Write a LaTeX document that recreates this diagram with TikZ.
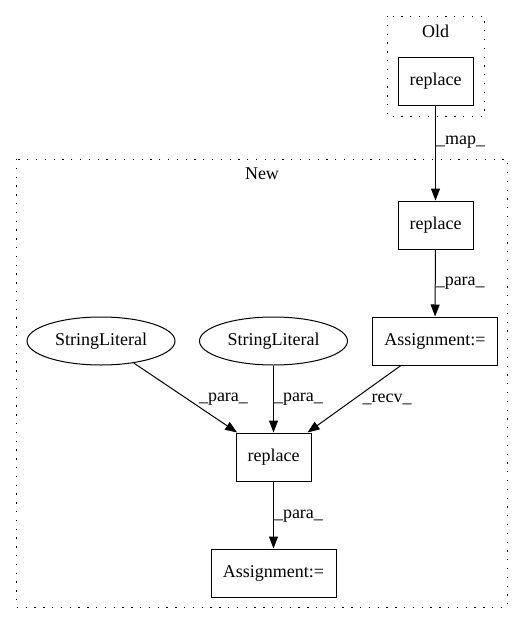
\documentclass[tikz,border=0pt]{standalone}
\usepackage{fontspec}
\setmainfont{Liberation Serif}
\usetikzlibrary{shapes.geometric,arrows.meta}

\begin{document}
\begin{tikzpicture}[x=1pt,y=-1pt,
	font=\fontsize{18}{21}\selectfont,
	box/.style={draw,line width=1pt,minimum width=75pt,minimum height=48pt,inner sep=0pt},
	wide/.style={box,minimum width=125pt},
	lit/.style={draw,ellipse,line width=1pt,minimum width=148pt,minimum height=48pt,inner sep=0pt},
	edge/.style={line width=1pt,-{Triangle[length=12pt,width=9pt]}},
	lbl/.style={anchor=west,inner sep=0pt},
	cluster/.style={draw,line width=1pt,dash pattern=on 1.3pt off 7.5pt}]
	\useasboundingbox (0,0) rectangle (525,624);
	\draw[cluster] (387,16) rectangle (484,116);
	\draw[cluster] (16,159) rectangle (507,607);
	\node (oldlabel) at (435.5,31) {Old};
	\node (newlabel) at (262,174) {New};
	\node[box] (oldrep) at (435.5,81.5) {replace};
	\node[box] (newrep) at (435.5,225) {replace};
	\node[wide] (asgtop) at (435,341) {Assignment:=};
	\node[lit] (lit1) at (101,341) {StringLiteral};
	\node[lit] (lit2) at (273.5,341) {StringLiteral};
	\node[box] (rep) at (273.5,457) {replace};
	\node[wide] (asgbot) at (273.5,573) {Assignment:=};
	\draw[edge] (oldrep) -- node[lbl,pos=0.38] {\_map\_} (newrep);
	\draw[edge] (newrep) -- node[lbl,pos=0.5] {\_para\_} (asgtop);
	\draw[edge] (lit1) -- node[lbl,pos=0.52,xshift=11pt] {\_para\_} (rep);
	\draw[edge] (lit2) -- node[lbl,pos=0.5] {\_para\_} (rep);
	\draw[edge] (asgtop) -- node[lbl,pos=0.5,xshift=8pt] {\_recv\_} (rep);
	\draw[edge] (rep) -- node[lbl,pos=0.51] {\_para\_} (asgbot);
\end{tikzpicture}
\end{document}
